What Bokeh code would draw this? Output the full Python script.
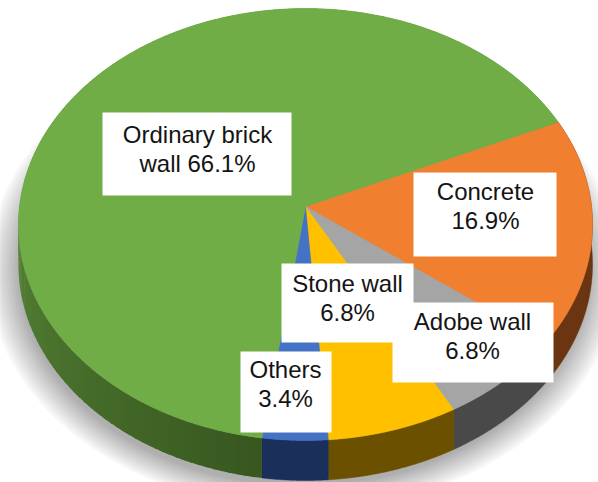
import numpy as np
from bokeh.plotting import figure
from bokeh.models import Range1d
from bokeh.core.properties import value
from bokeh.embed import file_html
from bokeh.resources import INLINE

# Data, clockwise from the concrete slice
categories = ["Concrete", "Adobe wall", "Stone wall", "Others", "Ordinary brick wall"]
shares = [16.9, 6.8, 6.8, 3.4, 66.1]
top_colors = ["#f07f2f", "#a5a5a5", "#ffc000", "#4472c4", "#70ad47"]
side_colors = ["#6a3510", "#494949", "#6b5000", "#1a2f5a", "#4a7530"]
label_lines = [["Concrete", "16.9%"], ["Adobe wall", "6.8%"], ["Stone wall", "6.8%"],
               ["Others", "3.4%"], ["Ordinary brick", "wall 66.1%"]]

# Layout in page pixels (y downwards)
APEX_X, APEX_Y = 305, 206
A, B, K = 286, 214.5, 0.0833
DEPTH = 40
START_DEG = -24
boxes = {  # left, right, top, bottom, centre x, first line y, second line y
    "Ordinary brick wall": (102, 291, 112, 195, 197, 134, 163),
    "Concrete": (413, 556, 172, 256, 485, 191, 220),
    "Stone wall": (281, 413, 263, 342, 347, 283, 312),
    "Adobe wall": (392, 553, 302, 382, 472, 321, 350),
    "Others": (240, 331, 351, 432, 285, 369, 398),
}
draw_order = ["Ordinary brick wall", "Concrete", "Stone wall", "Adobe wall", "Others"]


def rim(t0, t1, n=120):
    t = np.radians(np.linspace(t0, t1, n))
    u, v = np.cos(t), np.sin(t)
    w = 1 - K * v
    return APEX_X + A * u / w, APEX_Y + B * v / w


p = figure(width=598, height=482, output_backend="svg", toolbar_location=None,
           x_range=Range1d(0, 598), y_range=Range1d(482, 0), min_border=0)
p.axis.visible = False
p.grid.visible = False
p.outline_line_color = None
p.background_fill_color = "white"
p.border_fill_color = "white"

# Soft shadow: nested ellipses, darker towards the pie
for w, h, shade in zip(np.linspace(632, 570, 16), np.linspace(478, 430, 16), np.linspace(248, 175, 16)):
    g = int(shade)
    p.ellipse(x=[303], y=[270], width=[float(w)], height=[float(h)],
              fill_color="#%02x%02x%02x" % (g, g, g), line_color=None)

cum = START_DEG + 360 * np.cumsum([0] + shares) / 100.0

# Side walls
for i, cat in enumerate(categories):
    if cat == "Ordinary brick wall":
        edges = np.linspace(cum[i], cum[i + 1], 161)
        c0, c1 = np.array([0x38, 0x58, 0x20]), np.array([0x5c, 0x8c, 0x3a])
        for j in range(160):
            f = min(1.0, (edges[j] - cum[i]) / 95.0)
            col = "#%02x%02x%02x" % tuple(int(x) for x in c0 + (c1 - c0) * f)
            x, y = rim(edges[j], edges[j + 1] + 0.4, 4)
            p.patch(np.r_[x, x[::-1]], np.r_[y, y[::-1] + DEPTH],
                    fill_color=col, line_color=None)
    else:
        x, y = rim(cum[i], cum[i + 1])
        p.patch(np.r_[x, x[::-1]], np.r_[y, y[::-1] + DEPTH],
                fill_color=side_colors[i], line_color=side_colors[i], line_width=0.5)

# Top face
for i, cat in enumerate(categories):
    x, y = rim(cum[i], cum[i + 1], 200)
    p.patch(np.r_[APEX_X, x], np.r_[APEX_Y, y],
            fill_color=top_colors[i], line_color=top_colors[i], line_width=0.5)

# Labels
lines = dict(zip(categories, label_lines))
for cat in draw_order:
    l, r, t, b, cx, y1, y2 = boxes[cat]
    p.quad(left=[l], right=[r], top=[t], bottom=[b], fill_color="white", line_color=None)
for cat in draw_order:
    l, r, t, b, cx, y1, y2 = boxes[cat]
    p.text(x=[cx, cx], y=[y1, y2], text=lines[cat], text_align="center",
           text_baseline="middle", text_font=value("Liberation Sans"),
           text_font_size="24px", text_color="#141414")

open("out.html", "w").write(file_html(p, INLINE))
